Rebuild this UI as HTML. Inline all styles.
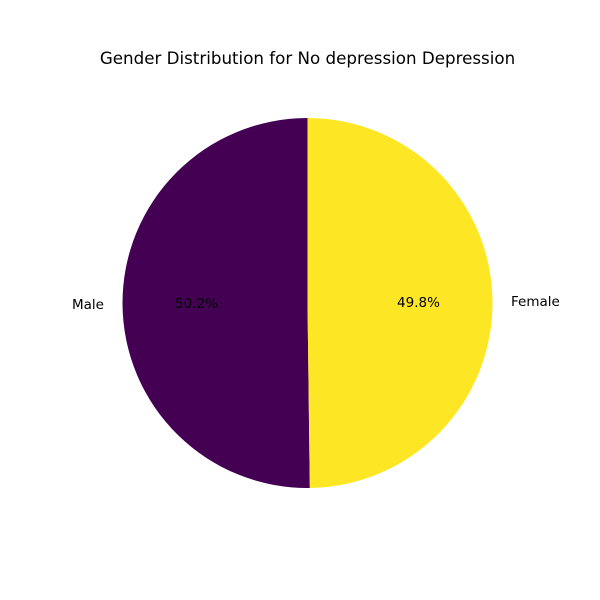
<!DOCTYPE html>
<html><head><meta charset="utf-8"><style>body{margin:0;background:#fff}svg{display:block}</style></head>
<body>
<svg id="chart" width="600" height="600" font-family="'DejaVu Sans','Liberation Sans',sans-serif">
<text x="307.5" y="64" text-anchor="middle" font-size="16.7">Gender Distribution for No depression Depression</text>
</svg>
<script>
const categories = ["Male", "Female"];
const values = [50.2, 49.8];
const colors = ["#440154", "#fde725"];
const svg = document.getElementById('chart');
const NS = 'http://www.w3.org/2000/svg';
const cx = 307.5, cy = 303, r = 185;
const total = values.reduce((a, b) => a + b, 0);
let ang = 90;
function pt(a, rr) { const t = a * Math.PI / 180; return [cx + rr * Math.cos(t), cy - rr * Math.sin(t)]; }
values.forEach((v, i) => {
  const sweep = v / total * 360;
  const a0 = ang, a1 = ang + sweep;
  const p0 = pt(a0, r), p1 = pt(a1, r);
  const large = sweep > 180 ? 1 : 0;
  const path = document.createElementNS(NS, 'path');
  path.setAttribute('d', `M${cx},${cy} L${p0[0]},${p0[1]} A${r},${r} 0 ${large} 0 ${p1[0]},${p1[1]} Z`);
  path.setAttribute('fill', colors[i]);
  
  
  svg.appendChild(path);
  const mid = (a0 + a1) / 2;
  const lp = pt(mid, r * 1.1);
  const lab = document.createElementNS(NS, 'text');
  lab.setAttribute('x', lp[0]); lab.setAttribute('y', lp[1] + 4.5);
  lab.setAttribute('font-size', '13.5');
  lab.setAttribute('text-anchor', Math.cos(mid * Math.PI / 180) < 0 ? 'end' : 'start');
  lab.textContent = categories[i];
  
  
  svg.appendChild(lab);
  const pp = pt(mid, r * 0.6);
  const pct = document.createElementNS(NS, 'text');
  pct.setAttribute('x', pp[0]); pct.setAttribute('y', pp[1] + 4.5);
  pct.setAttribute('font-size', '13.5');
  pct.setAttribute('text-anchor', 'middle');
  pct.textContent = (v / total * 100).toFixed(1) + '%';
  
  
  svg.appendChild(pct);
  ang = a1;
});
</script>
</body></html>
